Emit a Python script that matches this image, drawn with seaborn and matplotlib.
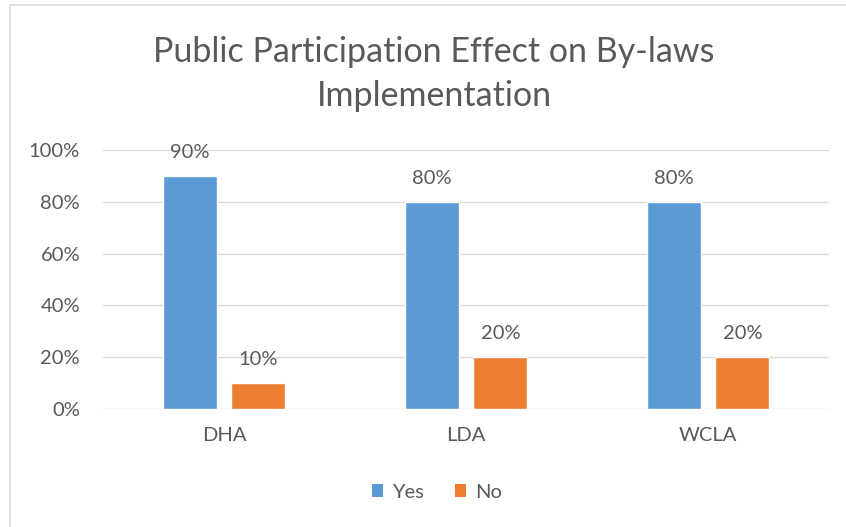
import matplotlib
matplotlib.use("Agg")
import matplotlib.pyplot as plt
from matplotlib.lines import Line2D
from matplotlib.patches import Patch
from matplotlib.ticker import PercentFormatter
import seaborn as sns
import pandas as pd

categories = ["DHA", "LDA", "WCLA"]
yes_values = [90, 80, 80]
no_values = [10, 20, 20]
series_names = ["Yes", "No"]
colors = ["#5B9BD5", "#ED7D31"]
title = "Public Participation Effect on By-laws\nImplementation"

df = pd.DataFrame({
    "Authority": categories * 2,
    "Response": [series_names[0]] * len(categories) + [series_names[1]] * len(categories),
    "Percent": yes_values + no_values,
})

sns.set_theme(style="white")
plt.rcParams["font.family"] = ["Lato", "DejaVu Sans"]
text_color = "#595959"
grid_color = "#d9d9d9"

fig = plt.figure(figsize=(8.46, 5.27), dpi=100)
ax = fig.add_axes([103 / 846, 1 - 409 / 527, 726 / 846, 259 / 527])

sns.barplot(data=df, x="Authority", y="Percent", hue="Response",
            palette=colors, width=0.57, gap=0.217, ax=ax,
            legend=False, saturation=1)

ax.set_ylim(0, 100)
ax.set_xlim(-0.5, len(categories) - 0.5)
ax.set_yticks(range(0, 101, 20))
ax.yaxis.set_major_formatter(PercentFormatter(decimals=0))
ax.set_axisbelow(True)
ax.yaxis.grid(True, color=grid_color, lw=1)
for s in ax.spines.values():
    s.set_visible(False)
ax.set_xlabel("")
ax.set_ylabel("")
ax.tick_params(axis="both", length=0, labelsize=14.5, colors=text_color)
ax.tick_params(axis="y", pad=16.5)
ax.tick_params(axis="x", pad=13)

for cont in ax.containers:
    ax.bar_label(cont, fmt="%g%%", padding=11, fontsize=14.5, color=text_color)

fig.text(434 / 846, 1 - 74 / 527, title, ha="center", va="center",
         fontsize=24.5, color=text_color, linespacing=1.5)

handles = [Patch(facecolor=c, edgecolor="none") for c in colors]
fig.legend(handles, series_names, loc="center", bbox_to_anchor=(437 / 846, 1 - 492 / 527),
           ncol=2, frameon=False, fontsize=14.5, labelcolor=text_color,
           handlelength=0.58, handleheight=0.58, handletextpad=0.45, columnspacing=1.5)

# chart-area border
fig.add_artist(Line2D([10 / 846, 1], [1 - 5 / 527, 1 - 5 / 527],
                      transform=fig.transFigure, color=grid_color, lw=1.2))
fig.add_artist(Line2D([10 / 846, 10 / 846], [0, 1 - 5 / 527],
                      transform=fig.transFigure, color=grid_color, lw=1.2))

fig.savefig("out.png", dpi=100, facecolor="white")
